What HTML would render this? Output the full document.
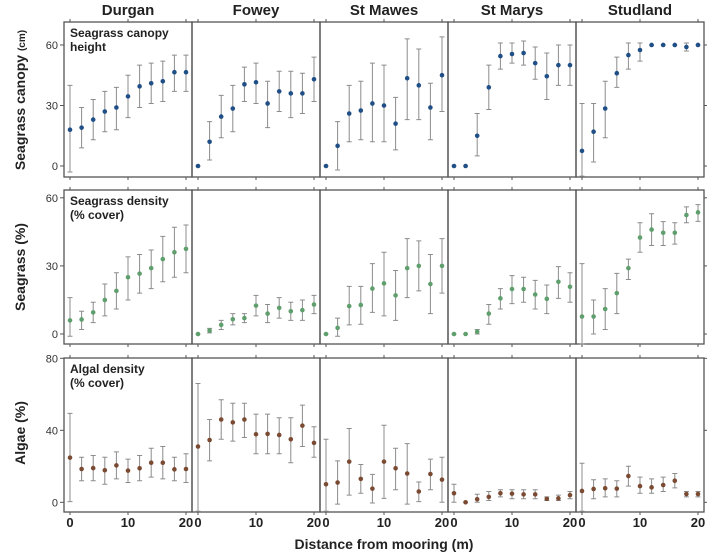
<!DOCTYPE html>
<html><head><meta charset="utf-8"><style>
body{margin:0;background:#fff}
svg{display:block;font-family:"Liberation Sans",Arial,sans-serif}
</style></head><body>
<svg id="chart" width="712" height="556" viewBox="0 0 712 556" xmlns="http://www.w3.org/2000/svg"></svg>
<script>
const sites = ["Durgan","Fowey","St Mawes","St Marys","Studland"];
const distances = [0,2,4,6,8,10,12,14,16,18,20];
const xTicks = [0,10,20];
const canopyTicks = [0,30,60];
const densityTicks = [0,30,60];
const algaeTicks = [0,40,80];

const canopyMean = [
 [18,19,23,27,29,34.5,39.5,41,42,46.5,46.5],
 [0,12,24.5,28.5,40.5,41.5,31,37,36,36,43],
 [0,10,26,27.5,31,30,21,43.5,40,29,45],
 [0,0,15,39,54.5,55.5,56,51,44.5,50,50],
 [7.5,17,28.5,46,55,57.5,60,60,60,59,60]];
const canopyLo = [
 [-3,9,13,17,18,24,29,31,32,37,37],
 [0,3,14,17,32,31,19,27,24,26,32],
 [0,-2,12,13,12,12,8,23,23,13,27],
 [0,0,5,28,48,51,50,43,33,40,40],
 [-5,2,14,39,48,52,60,60,60,57,60]];
const canopyHi = [
 [40,29,33,37,39,45,50,51,52,55,55],
 [0,22,35,40,49,51,42,47,47,46,54],
 [0,22,40,42,51,50,34,63,58,41,64],
 [0,0,26,50,61,61,62,59,56,60,60],
 [31,31,42,54,61,61,60,60,60,61,60]];

const densityMean = [
 [6,6.4,9.5,15,19,25,26.6,29,33,36,37.5],
 [0,1.5,4,6.5,7,12.5,9,11.5,10,10.5,13],
 [0,2.7,12.3,12.8,20,22.3,17,29,30,22,30],
 [0,0,1,9,15.7,19.8,19.8,17.4,15.5,23,20.8],
 [7.7,7.7,11,18,29,42.5,46,44.6,44.6,52.4,53.6]];
const densityLo = [
 [-1,2,5,8,11,15,18,20,23,25,27],
 [0,0.5,2,4,5,8,5,7,6,6,9],
 [0,-1,4,4.3,9.5,8,6,16,19,9,18],
 [0,0,0,4.3,11,13.4,14,11,9,15.7,14],
 [-5,0,2,9,24,36,39,39,39.6,49,49.6]];
const densityHi = [
 [16,10,14,22,27,34,35,37,43,47,48],
 [0,2.5,6,9,9,17,13,16,14,15,17],
 [0,7,21,21,31,36,28,42,41,35,42],
 [0,0,2,13,20,25.7,25,23.6,21.6,29.7,27],
 [31,15,20,26.7,33,49,53,49.5,49,56,57]];

const algaeMean = [
 [24.8,18.5,19,17.8,20.5,17.6,18.9,22,22,18.3,18.5],
 [31,34.6,46,44.4,46,37.8,38,37.4,35,42.6,33],
 [10,11,22.6,13,7.6,22.6,18.9,16,6,15.7,12.6],
 [5,0,1.7,3,5,4.8,4.4,4.4,1.9,2.2,4],
 [6.3,7.4,7.8,7.6,14.6,9,8.3,9.6,12,4.6,4.6]];
const algaeLo = [
 [0.4,12,12,10,13,11,12,14,13,12,11],
 [-5,23,35,34,36,27,27,27,22,31,25],
 [-5,-1,4,5,-0.4,2.2,7,-1,0.4,7,0],
 [0,0,0,1,3,2,2,2,1,1,2],
 [-5,2,3,3,9,5,5,6,8,3,3]];
const algaeHi = [
 [49.4,25,26,25,28,24,26,30,31,25,27],
 [66,46,57,55,55,49,49,47,47,54,42],
 [35,23,41,21,15.5,42.8,30,32.6,11.3,24,25],
 [10,0,4.5,6,7,7,7,7,3,4,6],
 [21.7,12.5,13,12,20,14,13,14,16,6,6]];

const NS="http://www.w3.org/2000/svg";
const svg=document.getElementById('chart');
function mk(tag,attrs,parent){const e=document.createElementNS(NS,tag);for(const k in attrs)e.setAttribute(k,attrs[k]);(parent||svg).appendChild(e);return e;}

const PL=64, PW=128;
function xScale(v,col){return PL+col*PW+6+v*5.8;}
const rows=[
 {top:22,bot:177,y0:166,k:2.017,mean:canopyMean,lo:canopyLo,hi:canopyHi,ticks:canopyTicks,color:"#1f4f86",name:"canopy",lab:["Seagrass canopy","height"]},
 {top:190,bot:344,y0:334,k:2.27,mean:densityMean,lo:densityLo,hi:densityHi,ticks:densityTicks,color:"#5f9f6d",name:"density",lab:["Seagrass density","(% cover)"]},
 {top:358,bot:512,y0:502.3,k:1.8,mean:algaeMean,lo:algaeLo,hi:algaeHi,ticks:algaeTicks,color:"#7a4a32",name:"algae",lab:["Algal density","(% cover)"]}];
function yScale(v,r){return Math.max(rows[r].top,Math.min(rows[r].bot,rows[r].y0-v*rows[r].k));}

// site titles
sites.forEach((s,c)=>{
 const t=mk('text',{x:PL+c*PW+PW/2,y:15,'text-anchor':'middle','font-size':15,'font-weight':'bold',fill:'#222'});
 t.textContent=s;
 
 
});

rows.forEach((R,r)=>{
 const g=mk('g',{});
 
 
 for(let c=0;c<5;c++){
  const f=mk('rect',{x:PL+c*PW,y:R.top,width:PW,height:R.bot-R.top,fill:'none',stroke:'#555','stroke-width':1.3},g);
  
  
  xTicks.forEach(v=>{
   const xx=xScale(v,c);
   mk('line',{x1:xx,x2:xx,y1:R.top-3,y2:R.top,stroke:'#555'},g);
   mk('line',{x1:xx,x2:xx,y1:R.bot,y2:R.bot+3,stroke:'#555'},g);
  });
  distances.forEach((d,i)=>{
   const xx=xScale(d,c);
   const lo=yScale(R.lo[c][i],r),hi=yScale(R.hi[c][i],r);
   const eb=mk('path',{d:`M${xx},${lo}V${hi}M${xx-2.5},${lo}H${xx+2.5}M${xx-2.5},${hi}H${xx+2.5}`,stroke:'#8c8c8c','stroke-width':1,fill:'none'},g);
   
   
   const p=mk('circle',{cx:xx,cy:yScale(R.mean[c][i],r),r:2.3,fill:R.color},g);
   
   
  });
 }
 R.ticks.forEach(v=>{
  const yy=yScale(v,r);
  mk('line',{x1:PL-4,x2:PL,y1:yy,y2:yy,stroke:'#555'},g);
  mk('line',{x1:PL+5*PW,x2:PL+5*PW+3,y1:yy,y2:yy,stroke:'#555'},g);
  const t=mk('text',{x:PL-6,y:yy+4,'text-anchor':'end','font-size':11,fill:'#333'},g);
  t.textContent=v;
  
  
 });
 R.lab.forEach((l,i)=>{
  const t=mk('text',{x:PL+6,y:R.top+15+i*14,'font-size':12,'font-weight':'bold',fill:'#222'},g);
  t.textContent=l;
  
  
 });
});

// y axis titles
[["Seagrass canopy ",100,"(cm)"],["Seagrass (%)",267,""],["Algae (%)",433,""]].forEach(a=>{
 const t=mk('text',{transform:`translate(25,${a[1]}) rotate(-90)`,'text-anchor':'middle','font-size':14,'font-weight':'bold',fill:'#222'});
 t.textContent=a[0];
 if(a[2]){const ts=mk('tspan',{'font-size':10},t);ts.textContent=a[2];}
 
 
});

// x tick labels
for(let c=0;c<5;c++){
 xTicks.forEach(v=>{
  const t=mk('text',{x:xScale(v,c),y:527,'text-anchor':'middle','font-size':13,'font-weight':'bold',fill:'#222'});
  t.textContent=v;
  
  
 });
}
const xt=mk('text',{x:384,y:549,'text-anchor':'middle','font-size':14,'font-weight':'bold',fill:'#222'});
xt.textContent="Distance from mooring (m)";


</script>
</body></html>
